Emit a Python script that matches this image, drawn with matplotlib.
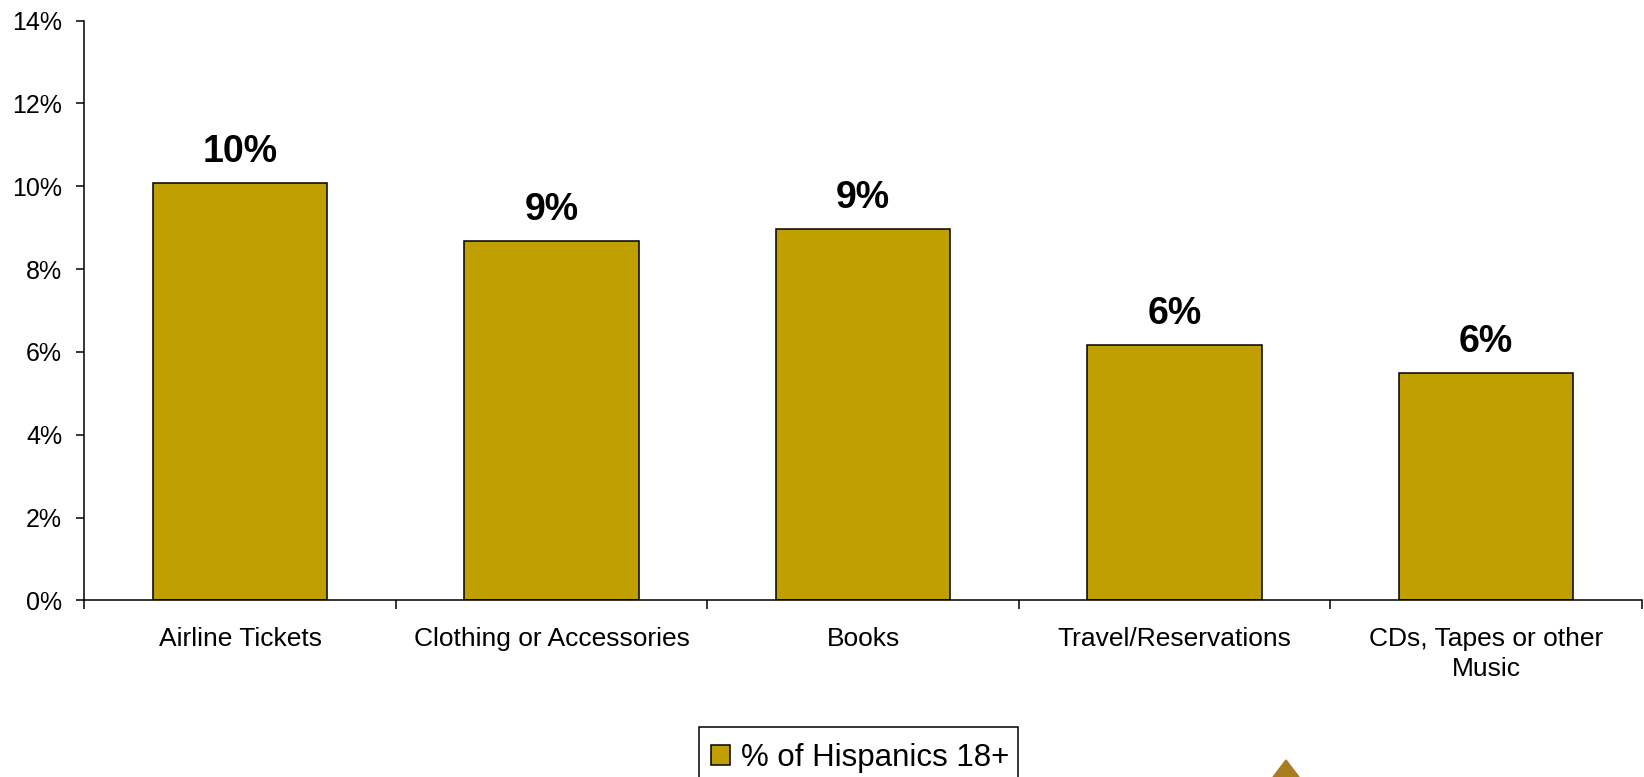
import matplotlib.pyplot as plt
from matplotlib.patches import Polygon, Rectangle
from matplotlib.ticker import FixedLocator, FuncFormatter

# datos del grafico
categorias = ["Airline Tickets", "Clothing or Accessories", "Books",
              "Travel/Reservations", "CDs, Tapes or other\nMusic"]
valores = [10.08, 8.69, 8.97, 6.17, 5.50]
etiquetas = ["10%", "9%", "9%", "6%", "6%"]
serie = "% of Hispanics 18+"

plt.rcParams['font.family'] = ['Liberation Sans', 'DejaVu Sans']

fig = plt.figure(figsize=(16.44, 7.77), dpi=100)
ax = fig.add_axes([0.0513, 0.2274, 0.9473, 0.746])

x = list(range(len(categorias)))
barras = ax.bar(x, valores, width=0.559, color='#C0A000', edgecolor='black',
                linewidth=1.1, label=serie)

# etiquetas arriba de cada barra
for xi, v, txt in zip(x, valores, etiquetas):
    ax.annotate(txt, (xi, v), xytext=(0, 15), textcoords='offset points',
                ha='center', va='baseline', fontsize=27, fontweight='bold')

ax.set_xlim(-0.5, len(categorias) - 0.5)
ax.set_ylim(0, 14)
ax.set_yticks(range(0, 15, 2))
ax.yaxis.set_major_formatter(FuncFormatter(lambda v, p: f"{v:.0f}%"))

# ticks mayores en los limites de categoria, etiquetas en los menores
ax.xaxis.set_major_locator(FixedLocator([i - 0.5 for i in range(len(categorias) + 1)]))
ax.xaxis.set_major_formatter(FuncFormatter(lambda v, p: ""))
ax.xaxis.set_minor_locator(FixedLocator(x))
ax.set_xticklabels(categorias, minor=True, linespacing=1.35)
ax.tick_params(axis='x', which='minor', length=0, pad=19, labelsize=19)
ax.tick_params(axis='x', which='major', length=6.5, width=1.1, direction='out')
ax.tick_params(axis='y', length=6, width=1.1, pad=10, labelsize=18)

for lado in ['top', 'right']:
    ax.spines[lado].set_visible(False)
for lado in ['left', 'bottom']:
    ax.spines[lado].set_linewidth(1.1)

# leyenda abajo, el marco sale por el borde de la figura
leg = fig.legend(handles=[barras], labels=[serie], loc='center left',
                 bbox_to_anchor=(711 / 1644, 1 - 758 / 777), fontsize=22.5,
                 frameon=False, handlelength=0.6, handleheight=0.6,
                 handletextpad=0.36, borderpad=0, borderaxespad=0)
marco = Rectangle((699 / 1644, -0.05), (1018 - 699) / 1644, 0.05 + 50 / 777,
                  transform=fig.transFigure, facecolor='none',
                  edgecolor='black', linewidth=1.1)
fig.patches.append(marco)

# triangulo decorativo abajo a la derecha
tri = Polygon([(1273 / 1644, 0), (1286 / 1644, 17 / 777), (1299 / 1644, 0)],
              closed=True, transform=fig.transFigure, color='#A67C1E')
fig.patches.append(tri)

fig.savefig('out.png', dpi=100)
